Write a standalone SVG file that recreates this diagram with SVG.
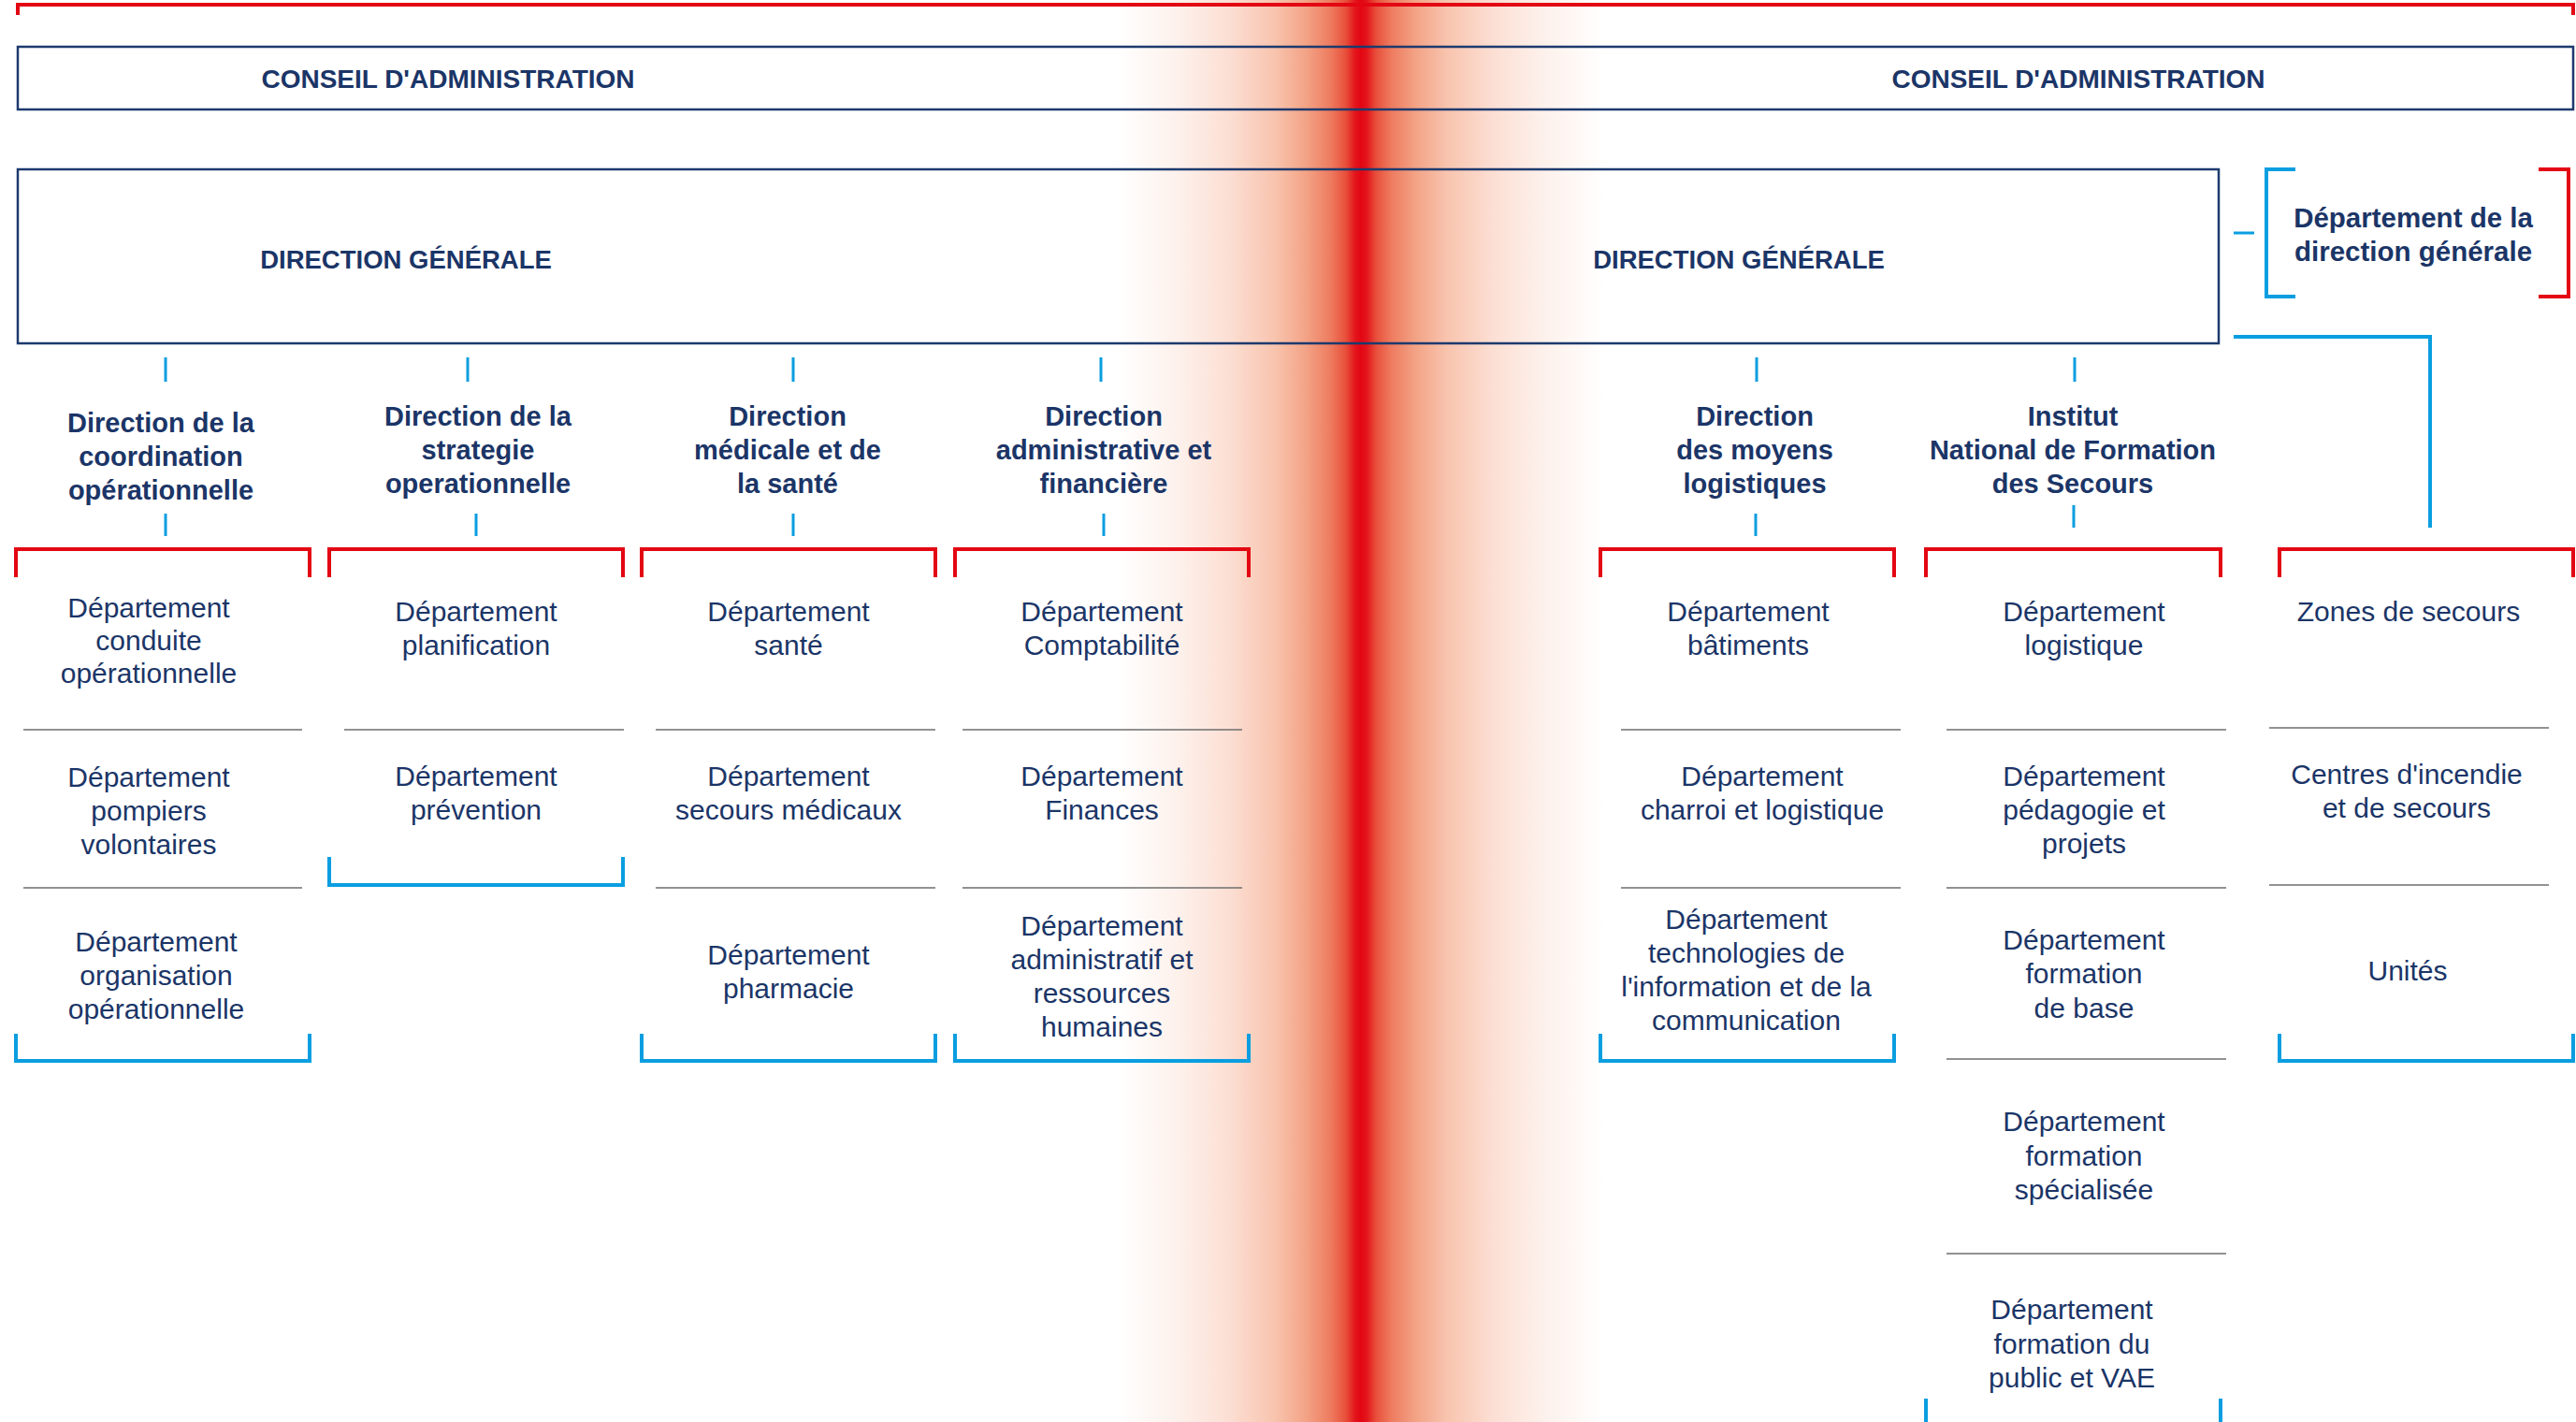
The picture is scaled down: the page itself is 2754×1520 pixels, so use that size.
<svg xmlns="http://www.w3.org/2000/svg" width="2754" height="1520" viewBox="0 0 2754 1520">
<defs>
<linearGradient id="stripe" x1="1195" y1="0" x2="1715" y2="0" gradientUnits="userSpaceOnUse">
<stop offset="0" stop-color="#ffffff"/>
<stop offset="0.131" stop-color="#fdf0ea"/>
<stop offset="0.227" stop-color="#fcdfd4"/>
<stop offset="0.323" stop-color="#f8c4ae"/>
<stop offset="0.387" stop-color="#f3a386"/>
<stop offset="0.438" stop-color="#ee7b5f"/>
<stop offset="0.469" stop-color="#e84f3a"/>
<stop offset="0.488" stop-color="#e3151c"/>
<stop offset="0.5" stop-color="#e30613"/>
<stop offset="0.512" stop-color="#e3151c"/>
<stop offset="0.531" stop-color="#e84f3a"/>
<stop offset="0.562" stop-color="#ee7b5f"/>
<stop offset="0.613" stop-color="#f3a386"/>
<stop offset="0.677" stop-color="#f8c4ae"/>
<stop offset="0.773" stop-color="#fcdfd4"/>
<stop offset="0.869" stop-color="#fdf0ea"/>
<stop offset="1" stop-color="#ffffff"/>
</linearGradient>
<style>
.box{fill:none;stroke:#1d3a6e;stroke-width:2.5}
.red{fill:none;stroke:#e30613;stroke-width:4}
.blue{fill:none;stroke:#0a9ee0;stroke-width:4}
.tick{fill:none;stroke:#0a9ee0;stroke-width:3}
.sep{fill:none;stroke:#6e6e6e;stroke-width:1.6}
text{font-family:"Liberation Sans",Arial,sans-serif;fill:#1b3567;text-anchor:middle}
.h{font-weight:bold;font-size:28px}
.t{font-weight:bold;font-size:29px}
.d{font-size:30px}
</style>
</defs>
<rect width="2754" height="1520" fill="#ffffff"/>
<rect x="1195" y="0" width="520" height="1520" fill="url(#stripe)"/>

<g id="connectors">
<path class="red" d="M19,16 V5 H2751 V16"/>
<path class="tick" d="M177,382 V408 M500,382 V408 M848,382 V408 M1177,382 V408 M1878,382 V408 M2218,382 V408"/>
<path class="tick" d="M177,549 V573 M509,549 V573 M848,549 V573 M1180,549 V573 M1877,549 V573 M2217,540 V564"/>
<path class="tick" d="M2388,249 H2410"/>
<path class="blue" d="M2388,360 H2598 V564"/>
</g>

<g id="conseil">
<rect class="box" x="19" y="50" width="2732" height="67"/>
<text class="h" x="479" y="94">CONSEIL D'ADMINISTRATION</text>
<text class="h" x="2222" y="94">CONSEIL D'ADMINISTRATION</text>
</g>

<g id="direction-generale">
<rect class="box" x="19" y="181" width="2353" height="186"/>
<text class="h" x="434" y="287" style="font-size:27.5px">DIRECTION GÉNÉRALE</text>
<text class="h" x="1859" y="287" style="font-size:27.5px">DIRECTION GÉNÉRALE</text>
</g>

<g id="dept-direction-generale">
<path class="blue" d="M2454,181 H2423 V317 H2454"/>
<path class="red" d="M2714,181 H2746 V317 H2714"/>
<text class="t" x="2580" y="243" style="font-size:29.5px">Département de la</text>
<text class="t" x="2580" y="279" style="font-size:29.5px">direction générale</text>
</g>

<g id="col-coordination">
<text class="t" x="172" y="462">Direction de la</text>
<text class="t" x="172" y="498">coordination</text>
<text class="t" x="172" y="534">opérationnelle</text>
<path class="red" d="M17,617 V587 H331 V617"/>
<text class="d" x="159" y="660">Département</text>
<text class="d" x="159" y="695">conduite</text>
<text class="d" x="159" y="730">opérationnelle</text>
<line class="sep" x1="25" y1="780" x2="323" y2="780"/>
<text class="d" x="159" y="841">Département</text>
<text class="d" x="159" y="877">pompiers</text>
<text class="d" x="159" y="913">volontaires</text>
<line class="sep" x1="25" y1="949" x2="323" y2="949"/>
<text class="d" x="167" y="1017">Département</text>
<text class="d" x="167" y="1053">organisation</text>
<text class="d" x="167" y="1089">opérationnelle</text>
<path class="blue" d="M17,1105 V1134 H331 V1105"/>
</g>

<g id="col-strategie">
<text class="t" x="511" y="455">Direction de la</text>
<text class="t" x="511" y="491">strategie</text>
<text class="t" x="511" y="527">operationnelle</text>
<path class="red" d="M352,617 V587 H666 V617"/>
<text class="d" x="509" y="664">Département</text>
<text class="d" x="509" y="700">planification</text>
<line class="sep" x1="368" y1="780" x2="667" y2="780"/>
<text class="d" x="509" y="840">Département</text>
<text class="d" x="509" y="876">prévention</text>
<path class="blue" d="M352,916 V946 H666 V916"/>
</g>

<g id="col-medicale">
<text class="t" x="842" y="455">Direction</text>
<text class="t" x="842" y="491">médicale et de</text>
<text class="t" x="842" y="527">la santé</text>
<path class="red" d="M686,617 V587 H1000 V617"/>
<text class="d" x="843" y="664">Département</text>
<text class="d" x="843" y="700">santé</text>
<line class="sep" x1="701" y1="780" x2="1000" y2="780"/>
<text class="d" x="843" y="840">Département</text>
<text class="d" x="843" y="876">secours médicaux</text>
<line class="sep" x1="701" y1="949" x2="1000" y2="949"/>
<text class="d" x="843" y="1031">Département</text>
<text class="d" x="843" y="1067">pharmacie</text>
<path class="blue" d="M686,1105 V1134 H1000 V1105"/>
</g>

<g id="col-administrative">
<text class="t" x="1180" y="455">Direction</text>
<text class="t" x="1180" y="491">administrative et</text>
<text class="t" x="1180" y="527">financière</text>
<path class="red" d="M1021,617 V587 H1335 V617"/>
<text class="d" x="1178" y="664">Département</text>
<text class="d" x="1178" y="700">Comptabilité</text>
<line class="sep" x1="1029" y1="780" x2="1328" y2="780"/>
<text class="d" x="1178" y="840">Département</text>
<text class="d" x="1178" y="876">Finances</text>
<line class="sep" x1="1029" y1="949" x2="1328" y2="949"/>
<text class="d" x="1178" y="1000">Département</text>
<text class="d" x="1178" y="1036">administratif et</text>
<text class="d" x="1178" y="1072">ressources</text>
<text class="d" x="1178" y="1108">humaines</text>
<path class="blue" d="M1021,1105 V1134 H1335 V1105"/>
</g>

<g id="col-logistique">
<text class="t" x="1876" y="455">Direction</text>
<text class="t" x="1876" y="491">des moyens</text>
<text class="t" x="1876" y="527">logistiques</text>
<path class="red" d="M1711,617 V587 H2025 V617"/>
<text class="d" x="1869" y="664">Département</text>
<text class="d" x="1869" y="700">bâtiments</text>
<line class="sep" x1="1733" y1="780" x2="2032" y2="780"/>
<text class="d" x="1884" y="840">Département</text>
<text class="d" x="1884" y="876">charroi et logistique</text>
<line class="sep" x1="1733" y1="949" x2="2032" y2="949"/>
<text class="d" x="1867" y="993">Département</text>
<text class="d" x="1867" y="1029">technologies de</text>
<text class="d" x="1867" y="1065">l'information et de la</text>
<text class="d" x="1867" y="1101">communication</text>
<path class="blue" d="M1711,1105 V1134 H2025 V1105"/>
</g>

<g id="col-institut">
<text class="t" x="2216" y="455">Institut</text>
<text class="t" x="2216" y="491">National de Formation</text>
<text class="t" x="2216" y="527">des Secours</text>
<path class="red" d="M2059,617 V587 H2374 V617"/>
<text class="d" x="2228" y="664">Département</text>
<text class="d" x="2228" y="700">logistique</text>
<line class="sep" x1="2081" y1="780" x2="2380" y2="780"/>
<text class="d" x="2228" y="840">Département</text>
<text class="d" x="2228" y="876">pédagogie et</text>
<text class="d" x="2228" y="912">projets</text>
<line class="sep" x1="2081" y1="949" x2="2380" y2="949"/>
<text class="d" x="2228" y="1015">Département</text>
<text class="d" x="2228" y="1051">formation</text>
<text class="d" x="2228" y="1088">de base</text>
<line class="sep" x1="2081" y1="1132" x2="2380" y2="1132"/>
<text class="d" x="2228" y="1209">Département</text>
<text class="d" x="2228" y="1246">formation</text>
<text class="d" x="2228" y="1282">spécialisée</text>
<line class="sep" x1="2081" y1="1340" x2="2380" y2="1340"/>
<text class="d" x="2215" y="1410">Département</text>
<text class="d" x="2215" y="1447">formation du</text>
<text class="d" x="2215" y="1483">public et VAE</text>
<path class="blue" d="M2059,1495 V1530 H2374 V1495"/>
</g>

<g id="col-zones">
<path class="red" d="M2437,617 V587 H2751 V617"/>
<text class="d" x="2575" y="664">Zones de secours</text>
<line class="sep" x1="2426" y1="778" x2="2725" y2="778"/>
<text class="d" x="2573" y="838">Centres d'incendie</text>
<text class="d" x="2573" y="874">et de secours</text>
<line class="sep" x1="2426" y1="946" x2="2725" y2="946"/>
<text class="d" x="2574" y="1048">Unités</text>
<path class="blue" d="M2437,1105 V1134 H2751 V1105"/>
</g>
</svg>
